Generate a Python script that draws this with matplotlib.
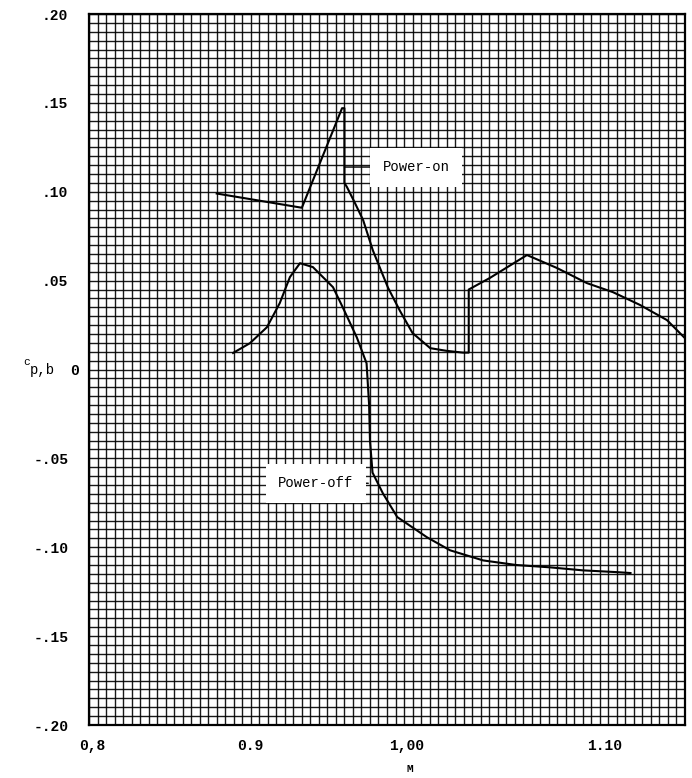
import matplotlib
matplotlib.use("Agg")
import matplotlib.pyplot as plt
import matplotlib.transforms as mtransforms
import numpy as np

# Pressure coefficient on the base versus Mach number
power_on_M = [0.875, 0.900, 0.925, 0.9486, 0.950, 0.950, 0.9515, 0.956, 0.961,
              0.9667, 0.9756, 0.9826, 0.990, 1.0004, 1.010, 1.0196, 1.023, 1.023,
              1.0354, 1.0572, 1.0748, 1.0924, 1.1077, 1.1236, 1.1394, 1.150]
power_on_c = [0.099, 0.095, 0.091, 0.147, 0.147, 0.105, 0.1026, 0.094, 0.084,
              0.067, 0.046, 0.033, 0.0205, 0.012, 0.0105, 0.0095, 0.0095, 0.045,
              0.0515, 0.0644, 0.0571, 0.0486, 0.0435, 0.0363, 0.0278, 0.0176]

power_off_M = [0.8846, 0.8945, 0.9045, 0.912, 0.918, 0.9239, 0.9315, 0.9433,
               0.949, 0.9573, 0.963, 0.9645, 0.965, 0.9665, 0.9726, 0.981,
               0.9985, 1.012, 1.0314, 1.051, 1.0707, 1.090, 1.110, 1.118]
power_off_c = [0.0093, 0.0148, 0.0238, 0.0373, 0.052, 0.0598, 0.0576, 0.0463,
               0.035, 0.018, 0.0035, -0.020, -0.040, -0.058, -0.0697, -0.083,
               -0.0944, -0.1017, -0.1074, -0.110, -0.1113, -0.113, -0.114, -0.1145]

y_ticks = [0.20, 0.15, 0.10, 0.05, 0.0, -0.05, -0.10, -0.15, -0.20]
y_tick_labels = [".20", ".15", ".10", ".05", "0", "-.05", "-.10", "-.15", "-.20"]
x_ticks = [0.8, 0.9, 1.0, 1.1]
x_tick_labels = ["0,8", "0.9", "1,00", "1.10"]

W, H = 692, 778
fig = plt.figure(figsize=(W / 100, H / 100), dpi=100)
ax = fig.add_axes([89 / W, 1 - 725 / H, (685 - 89) / W, (725 - 14) / H])

mono = ["Liberation Mono", "DejaVu Sans Mono"]

ax.set_xlim(0.8, 1.15)
ax.set_ylim(-0.20, 0.20)

# graph-paper grid
ax.set_xticks(np.arange(0.8, 1.15 + 1e-9, 0.005), minor=True)
ax.set_yticks(np.arange(-0.20, 0.20 + 1e-9, 0.005), minor=True)
ax.grid(which="both", color="black", linewidth=1.0, alpha=0.9)
ax.set_axisbelow(True)
ax.tick_params(which="both", length=0)

ax.set_yticks(y_ticks)
ax.set_yticklabels(y_tick_labels, fontfamily=mono, fontsize=10.5, fontweight="bold")
ax.tick_params(axis="y", pad=15)
ax.set_xticks(x_ticks)
ax.set_xticklabels(x_tick_labels, fontfamily=mono, fontsize=10.5, fontweight="bold")
ax.tick_params(axis="x", pad=10)

# typed labels sit slightly off their grid positions
x_shift = [3, -9, -23, 5]
for lab, dx in zip(ax.get_xticklabels(), x_shift):
    lab.set_transform(lab.get_transform() +
                      mtransforms.ScaledTranslation(dx / 100, 0, fig.dpi_scale_trans))
for lab, txt in zip(ax.get_yticklabels(), y_tick_labels):
    if txt == "0":
        lab.set_transform(lab.get_transform() +
                          mtransforms.ScaledTranslation(11 / 100, 0, fig.dpi_scale_trans))

for s in ax.spines.values():
    s.set_linewidth(1.6)
    s.set_color("black")

ax.plot(power_on_M, power_on_c, color="black", linewidth=1.5, zorder=3)
ax.plot(power_off_M, power_off_c, color="black", linewidth=1.5, zorder=3)

box = dict(boxstyle="square,pad=0.9", facecolor="white", edgecolor="none")
ax.annotate("Power-on", xy=(0.950, 0.1139), xytext=(0.9726, 0.1139),
            ha="left", va="center", fontfamily=mono, fontsize=10, bbox=box,
            arrowprops=dict(arrowstyle="-", color="black", lw=1.0,
                            shrinkA=0, shrinkB=0), zorder=4)
ax.annotate("Power-off", xy=(0.964, -0.064), xytext=(0.911, -0.064),
            ha="left", va="center", fontfamily=mono, fontsize=10, bbox=box,
            arrowprops=dict(arrowstyle="-", color="black", lw=1.0,
                            shrinkA=0, shrinkB=0), zorder=4)

# axis titles
ax.set_xlabel("M", fontfamily=mono, fontsize=8, fontweight="bold")
ax.xaxis.set_label_coords((410 - 89) / (685 - 89), -(768 - 725) / (725 - 14) + 0.006)
fig.text(23 / W, 1 - 362 / H, "c", fontfamily=mono, fontsize=8, ha="left", va="center")
fig.text(30 / W, 1 - 370 / H, "p,b", fontfamily=mono, fontsize=10, ha="left", va="center")

fig.savefig("out.png", dpi=100, facecolor="white")
